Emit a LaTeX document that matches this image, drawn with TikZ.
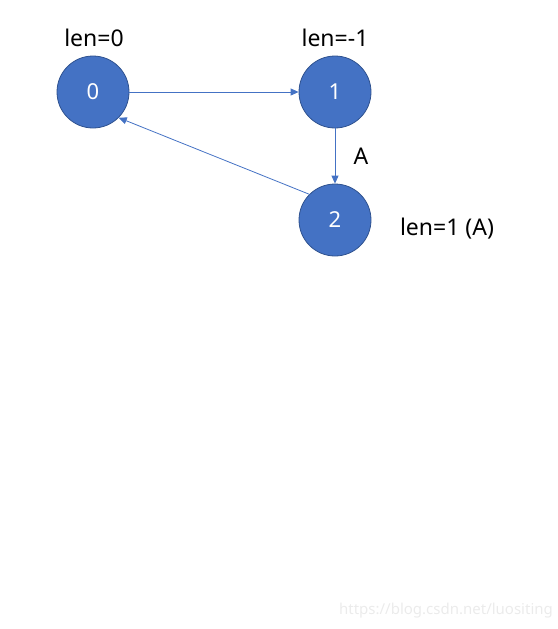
\documentclass[tikz,border=0pt]{standalone}
\usepackage{fontspec}
\setmainfont{Noto Sans}
\usetikzlibrary{arrows.meta}
\definecolor{nodeblue}{HTML}{4472C4}
\definecolor{rimblue}{HTML}{2F528F}
\tikzset{
  state/.style={circle, fill=nodeblue, draw=rimblue, line width=0.8pt, minimum size=72pt, inner sep=0pt, text=white, font=\fontsize{22}{26}\selectfont},
  tag/.style={font=\fontsize{23}{27}\selectfont},
  edge/.style={draw=nodeblue, line width=0.8pt, -{Triangle[length=8pt,width=7pt]}}
}
\begin{document}
\begin{tikzpicture}[x=1pt,y=-1pt]
            \useasboundingbox (0,0) rectangle (557,629);
            \node[state] (n0) at (93,92) {0};
            \node[state] (n1) at (335,92) {1};
            \node[state] (n2) at (335,220) {2};
            \node[tag] (l0) at (94,38) {len=0};
            \node[tag] (l1) at (335,38) {len=-1};
            \node[tag] (l2) at (447,229) {len=1 (A)};
            \draw[edge] (n0) -- (n1);
            \draw[edge] (n1) -- node[tag, right=15pt] (ea) {A} (n2);
            \draw[edge] (n2.135) -- (n0.-45);
            \node[text=black!8, font=\fontsize{15}{18}\selectfont] (wm) at (446,611) {https://blog.csdn.net/luositing};
        \end{tikzpicture}
\end{document}
